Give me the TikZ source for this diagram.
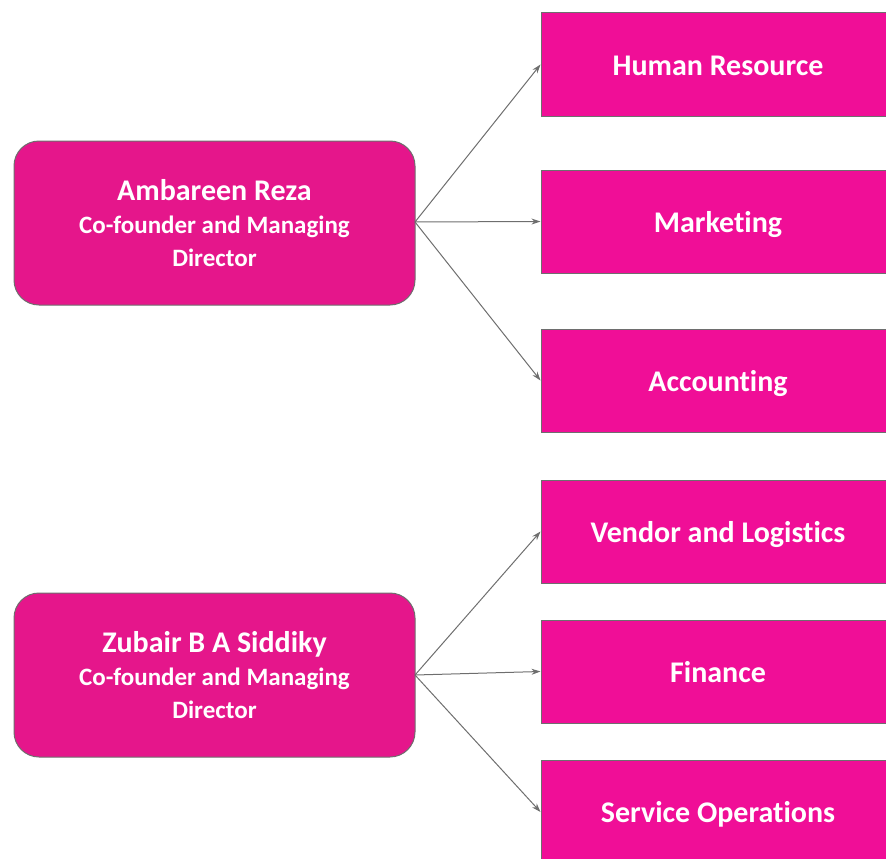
\documentclass[tikz,border=0pt]{standalone}
\usepackage{fontspec}
\setmainfont{Carlito}[Ligatures=NoCommon]
\usetikzlibrary{arrows.meta}
\definecolor{leftpink}{HTML}{E5168B}
\definecolor{rightpink}{HTML}{F00E97}
\definecolor{edgegray}{HTML}{6E6E6E}
\tikzset{
  person/.style={draw=edgegray, line width=1pt, fill=leftpink, rounded corners=25pt,
    minimum width=401pt, minimum height=164pt, text=white, align=center, inner sep=0pt,
    font=\bfseries\fontsize{25}{33}\selectfont},
  dept/.style={draw=edgegray, line width=1pt, fill=rightpink, minimum width=354pt,
    minimum height=103pt, text=white, inner sep=0pt, text height=22pt, text depth=1pt,
    font=\bfseries\fontsize{30}{33}\selectfont},
  link/.style={draw=edgegray, line width=1pt, -{Stealth[length=9pt,width=6pt]}}
}
\begin{document}
\begin{tikzpicture}[x=1pt,y=-1pt]
\useasboundingbox (0,0) rectangle (886,859);
\node[person] (ar) at (214.5,223) {{\fontsize{30}{33}\selectfont Ambareen Reza}\\Co-founder and Managing\\Director};
\node[person] (zs) at (214.5,675) {{\fontsize{30}{33}\selectfont Zubair B A Siddiky}\\Co-founder and Managing\\Director};
\node[dept] (hr) at (718,64.5) {Human Resource};
\node[dept] (mk) at (718,221.5) {Marketing};
\node[dept] (ac) at (718,380.5) {Accounting};
\node[dept] (vl) at (718,531.5) {Vendor and Logistics};
\node[dept] (fi) at (718,671.5) {Finance};
\node[dept, minimum height=104pt] (so) at (718,812) {Service Operations};
\coordinate (as) at (415,222);
\coordinate (zo) at (415,675);
\draw[link] (as) -- (hr.west);
\draw[link] (as) -- (mk.west);
\draw[link] (as) -- (ac.west);
\draw[link] (zo) -- (vl.west);
\draw[link] (zo) -- (fi.west);
\draw[link] (zo) -- (so.west);
\end{tikzpicture}
\end{document}
